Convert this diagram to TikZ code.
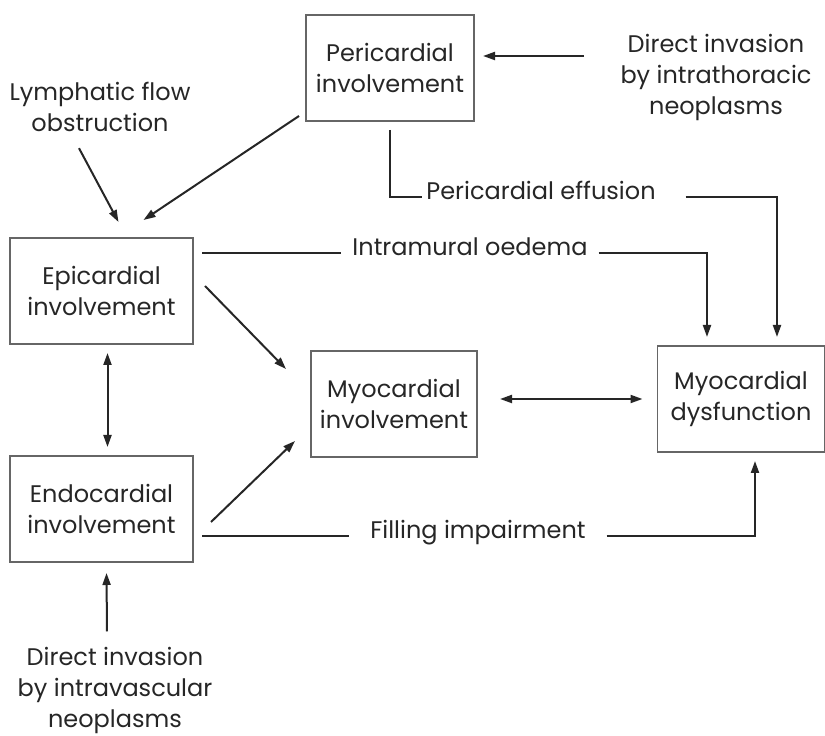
\documentclass[tikz,border=0pt]{standalone}
\usepackage{fontspec}
\setmainfont{Poppins}
\usetikzlibrary{arrows.meta}
\usetikzlibrary{positioning}

\begin{document}
\begin{tikzpicture}[x=1pt,y=1pt,
    font=\fontsize{24}{31}\selectfont, text=black!85,
    line width=2pt, draw=black!85,
    >={Triangle[length=12pt,width=8pt]},
    box/.style={draw=black!60, line width=1.4pt, minimum height=106pt,
      align=center, outer sep=9pt},
    lbl/.style={inner xsep=10pt, anchor=mid}]
  \useasboundingbox (0,0) rectangle (825,736);

  \node [box, minimum width=168pt] (peri) at (390,668) {Pericardial\\involvement};
  \node [box, minimum width=183pt] (epi) at (101.5,445) {Epicardial\\involvement};
  \node [box, minimum width=183pt] (endo) at (101.5,227) {Endocardial\\involvement};
  \node [box, minimum width=166pt] (myo) at (394,332) {Myocardial\\involvement};
  \node [box, minimum width=167pt] (dys) at (741,337) {Myocardial\\dysfunction};

  \node [align=center, anchor=north] (thor) at (716,706) {Direct invasion\\by intrathoracic\\neoplasms};
  \node [align=center, anchor=north] (lymph) at (100,658) {Lymphatic flow\\obstruction};
  \node [align=center, anchor=south, inner ysep=1pt] (vasc) at (115,0) {Direct invasion\\by intravascular\\neoplasms};

  \node [lbl, inner xsep=3pt] (eff) at (541,539) {Pericardial effusion};
  \node [lbl] (oed) at (470,483) {Intramural oedema};
  \node [lbl, inner xsep=20pt] (fill) at (478,200) {Filling impairment};

  \draw [->] ([xshift=-32pt,yshift=12pt]peri.east -| thor.west) -- ([yshift=12pt]peri.east);
  \draw [->] ([shift={(2pt,14pt)}]peri.south west) -- ([xshift=42pt,yshift=9pt]epi.north);
  \draw [->] ([shift={(-21pt,-12pt)}]lymph.south) -- ([shift={(17pt,7pt)}]epi.north);
  \draw (peri.south) |- (eff.mid west);
  \draw [->] ([xshift=26pt]eff.mid east) -| ([xshift=36pt]dys.north);
  \draw (epi.east |- oed.mid west) -- (oed.mid west);
  \draw [->] (oed.mid east) -| ([xshift=-34pt]dys.north);
  \draw [->] ([shift={(3pt,5pt)}]epi.east) -- ([shift={(-16pt,35pt)}]myo.west);
  \draw [<->] ([xshift=6pt]epi.south) -- ([xshift=6pt]endo.north);
  \draw [->] ([shift={(9pt,-13pt)}]endo.east) -- ([shift={(-7pt,-37pt)}]myo.west);
  \draw [<->] ([xshift=14pt]myo.east |- dys.west) -- ([xshift=-6pt]dys.west);
  \draw (endo.east |- fill.mid west) -- (fill.mid west);
  \draw [->] (fill.mid east) -| ([xshift=14pt]dys.south);
  \draw [->] ([shift={(-8pt,14pt)}]vasc.north) -- ([shift={(5pt,-2pt)}]endo.south);

\end{tikzpicture}
\end{document}
